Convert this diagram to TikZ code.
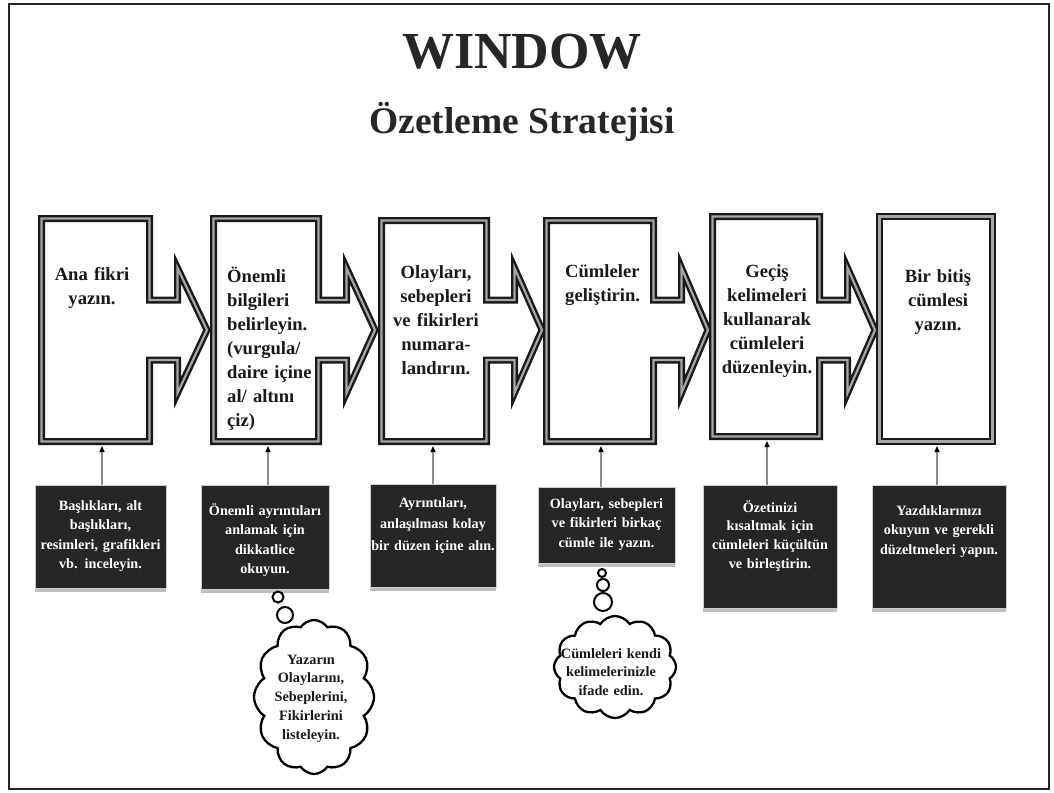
\documentclass[tikz,border=0pt]{standalone}
\usepackage{fontspec}
\setmainfont{Liberation Serif}
\usetikzlibrary{arrows.meta,shapes.symbols,shadows}

% Outline of one stage: a tall box whose right side carries a block arrow.
% #1 name of the bottom anchor, #2 left, #3 top, #4 right, #5 bottom, #6 arrow tip x
\newcommand\arrowstage[6]{%
  \draw[stageline] (#2,#3) -- (#4,#3) -- (#4,300) -- ({#4+28},300) -- ({#4+28},268)
    -- (#6,330) -- ({#4+28},393) -- ({#4+28},360) -- (#4,360) -- (#4,#5) -- (#2,#5) -- cycle;
  \coordinate (#1) at ({(#2+#4)/2},{#5+3.5});
}

\begin{document}
\begin{tikzpicture}[x=1pt,y=-1pt,
  frame/.style={draw=black!85,line width=2.6pt},
  stageline/.style={draw=black!90,fill=white,line width=2.4pt,double=black!35,double distance=2.2pt,line join=miter},
  stagetext/.style={font=\fontsize{18.6}{24}\selectfont\bfseries,text=black!90,inner sep=0pt,text width=112pt},
  darkbox/.style={fill=black!85,draw=black!20,line width=0.8pt,inner sep=0pt,
    drop shadow={shadow xshift=0pt,shadow yshift=-4pt,fill=black!25,opacity=1}},
  darktext/.style={font=\fontsize{14.2}{19.5}\selectfont\bfseries,text=white,inner sep=0pt,text width=130pt,align=center},
  tick/.style={draw=black!45,line width=1.4pt,-{Triangle[length=6pt,width=5pt,fill=black,color=black]}},
  thought/.style={cloud,cloud puffs=12,cloud puff arc=115,cloud ignores aspect,draw=black,line width=2.3pt,fill=white,inner sep=0pt},
  bubble/.style={circle,draw=black,line width=2pt,fill=white,inner sep=0pt},
  cloudtext/.style={font=\fontsize{14.3}{18.8}\selectfont\bfseries,text=black!90,inner sep=0pt,text width=104pt,align=center}
]
\useasboundingbox (0,0) rectangle (1054,792);
\draw[frame] (9,4) rectangle (1049,789);

% headings
\node[font=\fontsize{52}{52}\selectfont\bfseries,text=black!85,anchor=base,inner sep=0pt] (title) at (522,68) {WINDOW};
\node[font=\fontsize{37.5}{38}\selectfont\bfseries,text=black!85,anchor=base,inner sep=0pt] (subtitle) at (522,133) {Özetleme Stratejisi};

% the six stages
\arrowstage{s1}{41.5}{218.5}{149.5}{441.5}{207}
\arrowstage{s2}{213.5}{218.5}{318.5}{441.5}{375}
\arrowstage{s3}{381.5}{220.5}{486.5}{441.5}{542}
\arrowstage{s4}{546.5}{220.5}{653.5}{441.5}{708}
\arrowstage{s5}{712.5}{216.5}{819.5}{436.5}{875}
\draw[stageline] (879.5,216.5) rectangle (992.5,441.5);
\coordinate (s6) at (936,445);

\node[stagetext,align=center,anchor=base] (t1) at (92,280) {Ana fikri\\yazın.};
\node[stagetext,align=left,anchor=base west] (t2) at (227,282) {Önemli\\bilgileri\\belirleyin.\\(vurgula/\\daire içine\\al/ altını\\çiz)};
\node[stagetext,align=center,anchor=base] (t3) at (436,278) {Olayları,\\sebepleri\\ve fikirleri\\numara-\\landırın.};
\node[stagetext,align=left,anchor=base west] (t4) at (565,277) {Cümleler\\geliştirin.};
\node[stagetext,align=center,anchor=base] (t5) at (767,277) {Geçiş\\kelimeleri\\kullanarak\\cümleleri\\düzenleyin.};
\node[stagetext,align=center,anchor=base] (t6) at (938,282) {Bir bitiş\\cümlesi\\yazın.};

% dark hint boxes
\node[darkbox,minimum width=131pt,minimum height=103pt] (b1) at (100.5,536.5) {};
\node[darkbox,minimum width=128pt,minimum height=104pt] (b2) at (265,537) {};
\node[darkbox,minimum width=126pt,minimum height=103pt] (b3) at (433,535.5) {};
\node[darkbox,minimum width=137pt,minimum height=76pt] (b4) at (606.5,525) {};
\node[darkbox,minimum width=134pt,minimum height=123pt] (b5) at (770,546.5) {};
\node[darkbox,minimum width=134pt,minimum height=123pt] (b6) at (939,546.5) {};

\node[darktext,anchor=base] (n1) at (b1.center |- 0,510) {Başlıkları, alt\\başlıkları,\\resimleri, grafikleri\\vb. inceleyin.};
\node[darktext,anchor=base] (n2) at (b2.center |- 0,515) {Önemli ayrıntıları\\anlamak için\\dikkatlice\\okuyun.};
\node[darktext,anchor=base,font=\fontsize{14.2}{21.5}\selectfont\bfseries] (n3) at (b3.center |- 0,507) {Ayrıntıları,\\anlaşılması kolay\\bir düzen içine alın.};
\node[darktext,anchor=base] (n4) at (b4.center |- 0,508) {Olayları, sebepleri\\ve fikirleri birkaç\\cümle ile yazın.};
\node[darktext,anchor=base,font=\fontsize{14.2}{18.7}\selectfont\bfseries] (n5) at (b5.center |- 0,512) {Özetinizi\\kısaltmak için\\cümleleri küçültün\\ve birleştirin.};
\node[darktext,anchor=base] (n6) at (b6.center |- 0,515) {Yazdıklarınızı\\okuyun ve gerekli\\düzeltmeleri yapın.};

% small arrows from each hint box up to its stage
\coordinate (a1) at (102,446);
\coordinate (a2) at (268,446);
\coordinate (a3) at (433,446);
\coordinate (a4) at (601,446);
\coordinate (a5) at (767,441);
\coordinate (a6) at (937,446);
\draw[tick] (a1 |- b1.north) -- (a1);
\draw[tick] (a2 |- b2.north) -- (a2);
\draw[tick] (a3 |- b3.north) -- (a3);
\draw[tick] (a4 |- b4.north) -- (a4);
\draw[tick] (a5 |- b5.north) -- (a5);
\draw[tick] (a6 |- b6.north) -- (a6);

% thought clouds
\node[thought,minimum width=120pt,minimum height=154pt] (c1) at (314,697) {};
\node[bubble,minimum size=11pt] (p11) at (278,597) {};
\node[bubble,minimum size=16pt] (p12) at (285,615) {};
\node[cloudtext,anchor=base] (k1) at (311,664) {Yazarın\\Olaylarını,\\Sebeplerini,\\Fikirlerini\\listeleyin.};

\node[thought,minimum width=122pt,minimum height=102pt] (c2) at (615,667) {};
\node[bubble,minimum size=8pt] (p21) at (602,573) {};
\node[bubble,minimum size=12pt] (p22) at (603,585) {};
\node[bubble,minimum size=18pt] (p23) at (603,602) {};
\node[cloudtext,anchor=base] (k2) at (611,658) {Cümleleri kendi\\kelimelerinizle\\ifade edin.};
\end{tikzpicture}
\end{document}
